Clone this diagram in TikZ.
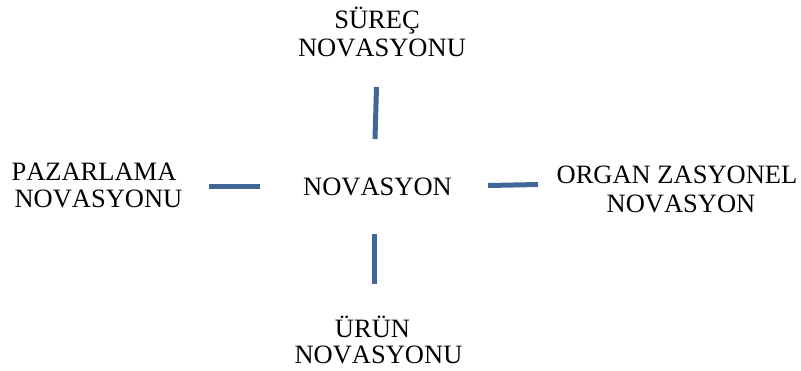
\documentclass[tikz,border=0pt]{standalone}
\usepackage{fontspec}
\setmainfont[Kerning=Off]{Liberation Serif}
\definecolor{spoke}{RGB}{64,103,152}
\begin{document}
\begin{tikzpicture}[x=1bp,y=-1bp,
  lbl/.style={inner sep=0pt,anchor=base,font=\fontsize{26.6}{28}\selectfont},
  spokeline/.style={draw=spoke,line width=5bp}]
\useasboundingbox (0,0) rectangle (801,370);
% central concept
\node[lbl] (mid) at (377.5,195) {NOVASYON};
% surrounding labels, one node per line
\node[lbl] (top1) at (377,28) {SÜREÇ};
\node[lbl] (top2) at (382,56) {NOVASYONU};
\node[lbl] (left1) at (94,180) {PAZARLAMA};
\node[lbl] (left2) at (98.5,207) {NOVASYONU};
\node[lbl] (right1) at (677,183) {ORGAN ZASYONEL};
\node[lbl] (right2) at (681,212) {NOVASYON};
\node[lbl] (bot1) at (372.5,337) {ÜRÜN};
\node[lbl] (bot2) at (378.5,363) {NOVASYONU};
% spoke ends
\coordinate (t0) at (376.5,87);  \coordinate (t1) at (375,139);
\coordinate (l0) at (209,186.5); \coordinate (l1) at (260,186.5);
\coordinate (r0) at (488,185.5); \coordinate (r1) at (538,184.5);
\coordinate (b0) at (374,234);   \coordinate (b1) at (374,284);
\draw[spokeline] (t0) -- (t1);
\draw[spokeline] (l0) -- (l1);
\draw[spokeline] (r0) -- (r1);
\draw[spokeline] (b0) -- (b1);
\end{tikzpicture}
\end{document}
